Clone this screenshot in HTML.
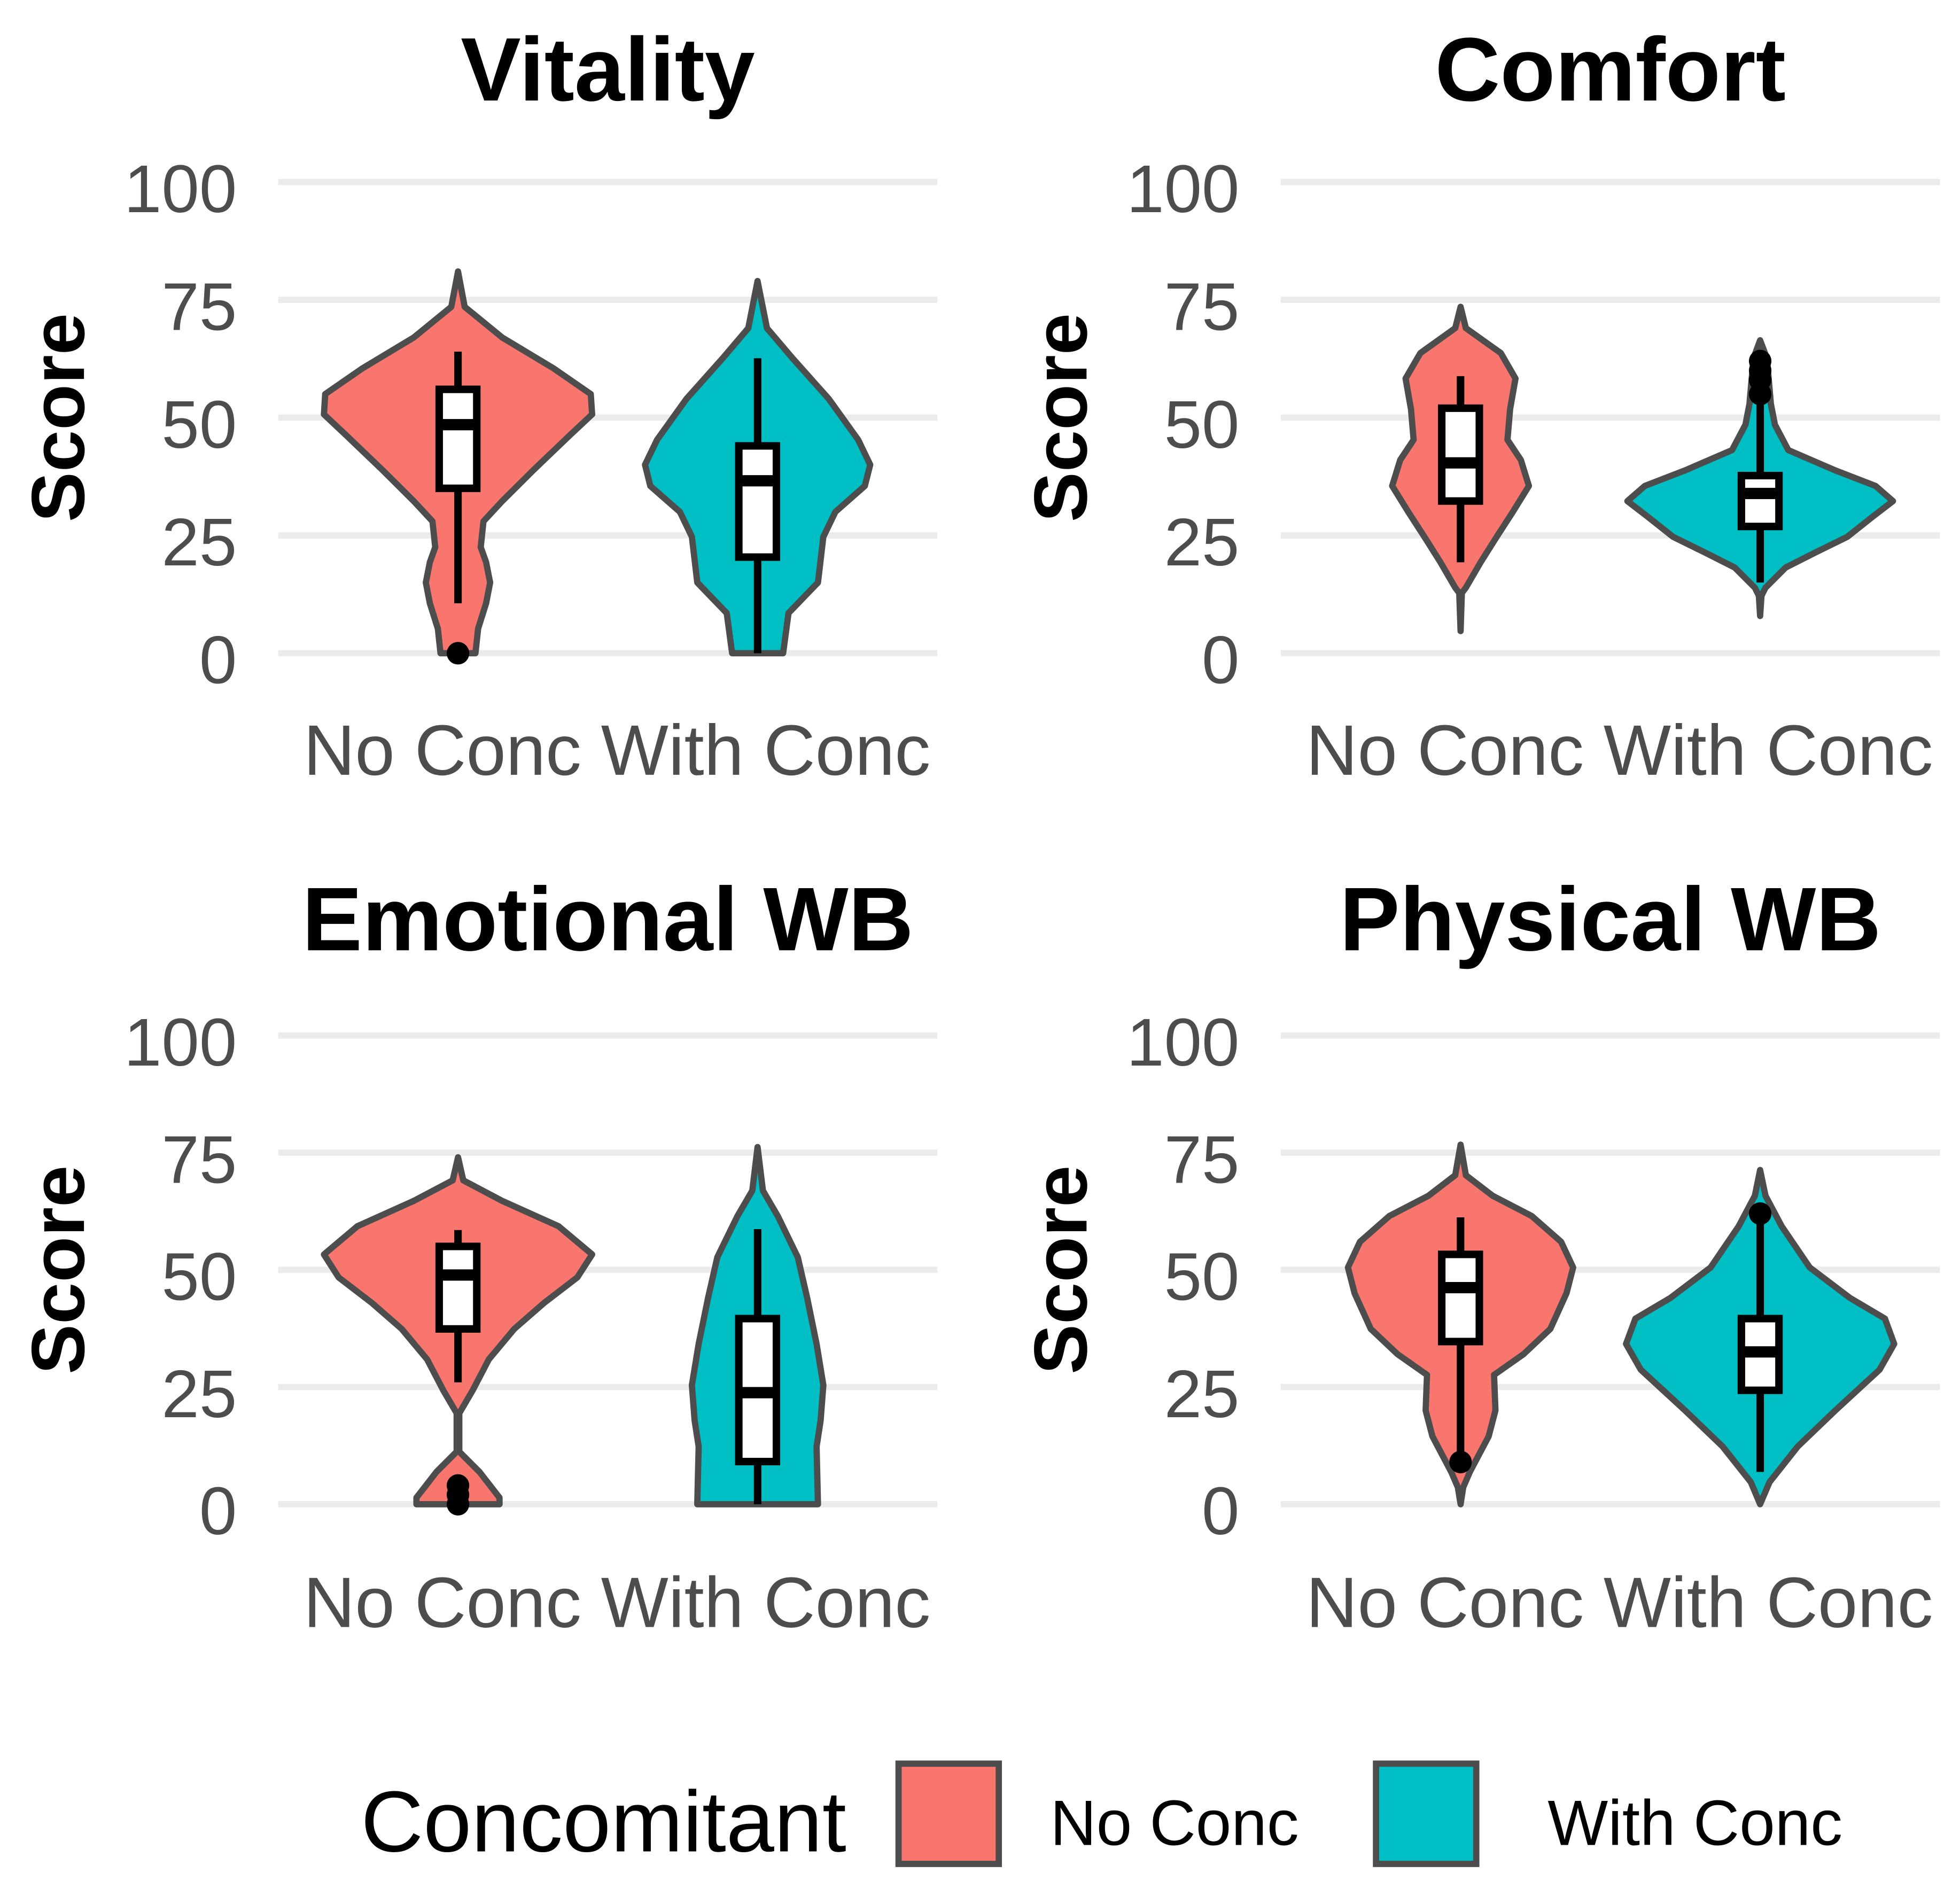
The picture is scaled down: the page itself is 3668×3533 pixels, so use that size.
<!DOCTYPE html>
<html><head><meta charset="utf-8"><style>
html,body{margin:0;padding:0;background:#fff}
svg{display:block}
text{font-family:"Liberation Sans",Arial,sans-serif}
</style></head><body>
<svg id="chart" width="3668" height="3533" viewBox="0 0 1564 1506" xmlns="http://www.w3.org/2000/svg">
<rect x="0" y="0" width="1564" height="1506" fill="#fff"/>
<g id="legend">
<text x="288" y="1477" font-size="69" fill="#000">Concomitant</text>
<rect x="717" y="1407" width="80" height="80" fill="#F8766D" stroke="#4d4d4d" stroke-width="5"/>
<text x="838" y="1472" font-size="51" fill="#000">No Conc</text>
<rect x="1098" y="1407" width="80" height="80" fill="#00BFC4" stroke="#4d4d4d" stroke-width="5"/>
<text x="1235" y="1472" font-size="51" fill="#000">With Conc</text>
</g>
</svg>
<script>
const panelTitles = ["Vitality","Comfort","Emotional WB","Physical WB"];
const categories = ["No Conc","With Conc"];
const yTicks = [0,25,50,75,100];
// violin profiles: score levels and relative half-widths (density)
const vitNoScore  = [81,73.5,67,60.5,55,50.7,46.4,38.8,32.3,28,22.5,19.3,15,10.6,5.2,0];
const vitNoDens   = [0,0.05,0.33,0.71,0.99,1,0.84,0.56,0.33,0.19,0.17,0.21,0.24,0.21,0.15,0.13];
const vitWithScore= [79,69,62.6,54,45.3,40,35.5,30,24.7,15,8.5,0];
const vitWithDens = [0,0.07,0.26,0.53,0.75,0.84,0.80,0.58,0.49,0.45,0.23,0.19];
const comNoScore  = [73.5,69,63.7,58.3,51.8,45.3,41,35.5,30,24.7,19.3,13.9,12.8,4.7];
const comNoDens   = [0,0.04,0.30,0.41,0.37,0.35,0.45,0.51,0.39,0.27,0.15,0.04,0.01,0];
const comWithScore= [66.4,62.6,52.9,48.5,43.1,38.8,35.5,32.3,29,24.7,21.5,18.2,13.9,12.2,7.9];
const comWithDens = [0,0.05,0.08,0.11,0.21,0.56,0.86,0.99,0.84,0.65,0.42,0.19,0.04,0.01,0];
const emoNoScore  = [74,69.1,64.7,59.3,53.3,48.4,42.9,37.4,30.9,24.3,19.4,11.2,6.9,1.4,0];
const emoNoDens   = [0,0.04,0.33,0.75,1,0.89,0.64,0.42,0.23,0.11,0.01,0.01,0.16,0.31,0.31];
const emoWithScore= [76.2,66.9,61.5,52.7,44,34.2,25.4,17.8,12.3,0];
const emoWithDens = [0,0.04,0.15,0.30,0.37,0.44,0.49,0.47,0.44,0.45];
const phyNoScore  = [76.7,70.2,65.8,61.5,56,50.5,45,37.4,32,27.6,20,14.5,6.9,3.6,0];
const phyNoDens   = [0,0.04,0.24,0.53,0.75,0.84,0.79,0.67,0.47,0.25,0.26,0.21,0.07,0.02,0];
const phyWithScore= [71.3,65.8,59.3,50.5,44,39.6,34.2,28.7,20,12.3,4.7,0];
const phyWithDens = [0,0.04,0.16,0.37,0.67,0.93,1,0.89,0.56,0.28,0.07,0];
// box stats: [whiskerLow, q1, median, q3, whiskerHigh]
const vitNoBox   = [10.6,35,48.5,56,64];
const vitWithBox = [0,20.4,36.6,44,62.6];
const comNoBox   = [19.3,32.3,40.4,52,58.8];
const comWithBox = [15,26.9,33.9,37.7,52.9];
const emoNoBox   = [26,37.4,48.9,55,58.5];
const emoWithBox = [0,9.1,23.8,39.6,58.7];
const phyNoBox   = [9,34.7,46.2,53.3,61.2];
const phyWithBox = [6.9,24.3,32.5,39.6,61.4];
// outliers
const vitNoOut = [0]; const vitWithOut = [];
const comNoOut = []; const comWithOut = [55,58,60,62];
const emoNoOut = [0,2,4]; const emoWithOut = [];
const phyNoOut = [9]; const phyWithOut = [62];

const NS="http://www.w3.org/2000/svg";
const svg=document.getElementById('chart');
const colors=["#F8766D","#00BFC4"];
const panels=[
 {left:222,top:145,bottom:521,titleY:80,xlabY:618,data:[[vitNoScore,vitNoDens,vitNoBox,vitNoOut],[vitWithScore,vitWithDens,vitWithBox,vitWithOut]]},
 {left:1022,top:145,bottom:521,titleY:80,xlabY:618,data:[[comNoScore,comNoDens,comNoBox,comNoOut],[comWithScore,comWithDens,comWithBox,comWithOut]]},
 {left:222,top:826,bottom:1200,titleY:758,xlabY:1298,data:[[emoNoScore,emoNoDens,emoNoBox,emoNoOut],[emoWithScore,emoWithDens,emoWithBox,emoWithOut]]},
 {left:1022,top:826,bottom:1200,titleY:758,xlabY:1298,data:[[phyNoScore,phyNoDens,phyNoBox,phyNoOut],[phyWithScore,phyWithDens,phyWithBox,phyWithOut]]}
];
function mk(tag,attrs,parent){const e=document.createElementNS(NS,tag);for(const k in attrs)e.setAttribute(k,attrs[k]);parent.appendChild(e);return e;}
const W=526, maxHalf=107;
panels.forEach((p,pi)=>{
 const g=mk('g',{},svg);
 
 
 const yS=v=>p.bottom+(p.top-p.bottom)*v/100;
 const xS=i=>p.left+W*(0.6+i)/2.2;
 yTicks.forEach(t=>{
  const l=mk('line',{x1:p.left,x2:p.left+W,y1:yS(t),y2:yS(t),stroke:"#ebebeb","stroke-width":5},g);
  
  
  const tx=mk('text',{x:p.left-33,y:yS(t)+24,"text-anchor":"end","font-size":54,fill:"#4d4d4d"},g);
  tx.textContent=t;
  
  
 });
 const title=mk('text',{x:p.left+W/2,y:p.titleY,"text-anchor":"middle","font-size":72,"font-weight":"bold",fill:"#000"},g);
 title.textContent=panelTitles[pi];
 
 
 const yl=mk('text',{x:0,y:0,"text-anchor":"middle","font-size":60,"font-weight":"bold",fill:"#000",transform:`translate(${p.left-155},${(p.top+p.bottom)/2}) rotate(-90)`},g);
 yl.textContent="Score";
 
 
 const labCenters=[p.left+131,p.left+389];
 categories.forEach((c,ci)=>{
  const xl=mk('text',{x:labCenters[ci],y:p.xlabY,"text-anchor":"middle","font-size":57,fill:"#4d4d4d"},g);
  xl.textContent=c;
  
  
  const [sc,de,bx,out]=p.data[ci];
  const cx=xS(ci);
  const pts=[];
  for(let k=0;k<sc.length;k++)pts.push([cx+de[k]*maxHalf,yS(sc[k])]);
  for(let k=sc.length-1;k>=0;k--)pts.push([cx-de[k]*maxHalf,yS(sc[k])]);
  const v=mk('polygon',{points:pts.map(q=>q[0].toFixed(1)+','+q[1].toFixed(1)).join(' '),fill:colors[ci],stroke:"#4d4d4d","stroke-width":5,"stroke-linejoin":"round"},g);
  
  
  const w=mk('line',{x1:cx,x2:cx,y1:yS(bx[0]),y2:yS(bx[4]),stroke:"#000","stroke-width":6},g);
  
  
  const b=mk('rect',{x:cx-15,y:yS(bx[3]),width:30,height:yS(bx[1])-yS(bx[3]),fill:"#fff",stroke:"#000","stroke-width":6},g);
  
  
  const m=mk('line',{x1:cx-15,x2:cx+15,y1:yS(bx[2]),y2:yS(bx[2]),stroke:"#000","stroke-width":9},g);
  
  
  out.forEach(o=>{
   const d=mk('circle',{cx:cx,cy:yS(o),r:9,fill:"#000"},g);
   
   
  });
 });
});
</script>
</body></html>
